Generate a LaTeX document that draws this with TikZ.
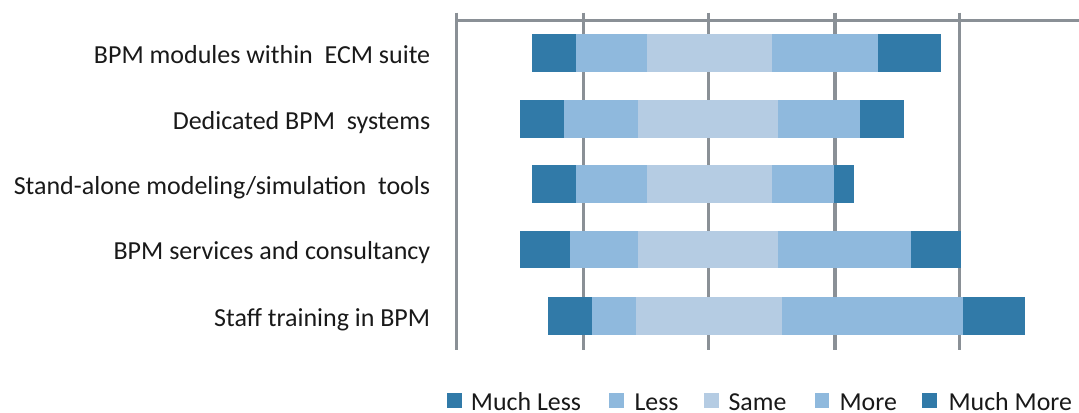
\documentclass[tikz,border=0pt]{standalone}
\usepackage{fontspec}
\setmainfont{Carlito}
\definecolor{mlcol}{HTML}{317AA8}
\definecolor{lcol}{HTML}{8FB9DD}
\definecolor{scol}{HTML}{B5CCE3}
\definecolor{gridcol}{HTML}{8A9096}
\tikzset{
gridln/.style={draw=gridcol,line width=2.6pt},
rowlbl/.style={anchor=base east,inner sep=0pt,font=\fontsize{19.5}{23}\selectfont,text=black!90},
legsq/.style={minimum size=10.8pt,inner sep=0pt},
legtxt/.style={anchor=base west,inner sep=0pt,font=\fontsize{19.4}{23}\selectfont,text=black!90}
}

\begin{document}
\begin{tikzpicture}[x=0.75pt,y=-0.75pt]
\useasboundingbox (0,0) rectangle (1079,413);

% grid
\foreach \gx in {456.7,583.3,708.5,835,959.5}
  \draw[gridln] (\gx,12.7) -- (\gx,350);
\draw[gridln] (456.7,20.7) -- (1079,20.7);

% bars
\foreach \yc/\a/\b/\c/\d/\e/\f in {
  52.9/532.3/576/646.7/771.7/878/940.7,
  119/520/564/638.3/777.7/860/904.3,
  184.2/532.3/576/646.7/772/834/854,
  249.5/520.3/570/638.3/777.7/910.7/961,
  316/548.3/592/636.3/782/962.7/1025}{
  \fill[mlcol] (\a,\yc-18.8) rectangle (\b,\yc+18.8);
  \fill[lcol] (\b,\yc-18.8) rectangle (\c,\yc+18.8);
  \fill[scol] (\c,\yc-18.8) rectangle (\d,\yc+18.8);
  \fill[lcol] (\d,\yc-18.8) rectangle (\e,\yc+18.8);
  \fill[mlcol] (\e,\yc-18.8) rectangle (\f,\yc+18.8);
}

\node[rowlbl](ecmsuite) at (430.5,63.2) {BPM modules within\ \ ECM suite};
\node[rowlbl](dedsys) at (430.5,129.3) {Dedicated BPM\ \ systems};
\node[rowlbl](modtools) at (430.5,194.5) {Stand-alone modeling/simulation\ \ tools};
\node[rowlbl](services) at (430.5,259.8) {BPM services and consultancy};
\node[rowlbl](training) at (430.5,326.3) {Staff training in BPM};

% legend
\node[legsq,fill=mlcol](kML) at (454.5,400.5){};
\node[legsq,fill=lcol](kL) at (616.5,400.5){};
\node[legsq,fill=scol](kS) at (711.5,400.5){};
\node[legsq,fill=lcol](kM) at (821.7,400.5){};
\node[legsq,fill=mlcol](kMM) at (929.5,400.5){};
\node[legtxt](tML) at (470.7,410.8){Much Less};
\node[legtxt](tL) at (634.3,410.8){Less};
\node[legtxt](tS) at (728.3,410.8){Same};
\node[legtxt](tM) at (839.3,410.8){More};
\node[legtxt](tMM) at (948.3,410.8){Much More};

\end{tikzpicture}
\end{document}
